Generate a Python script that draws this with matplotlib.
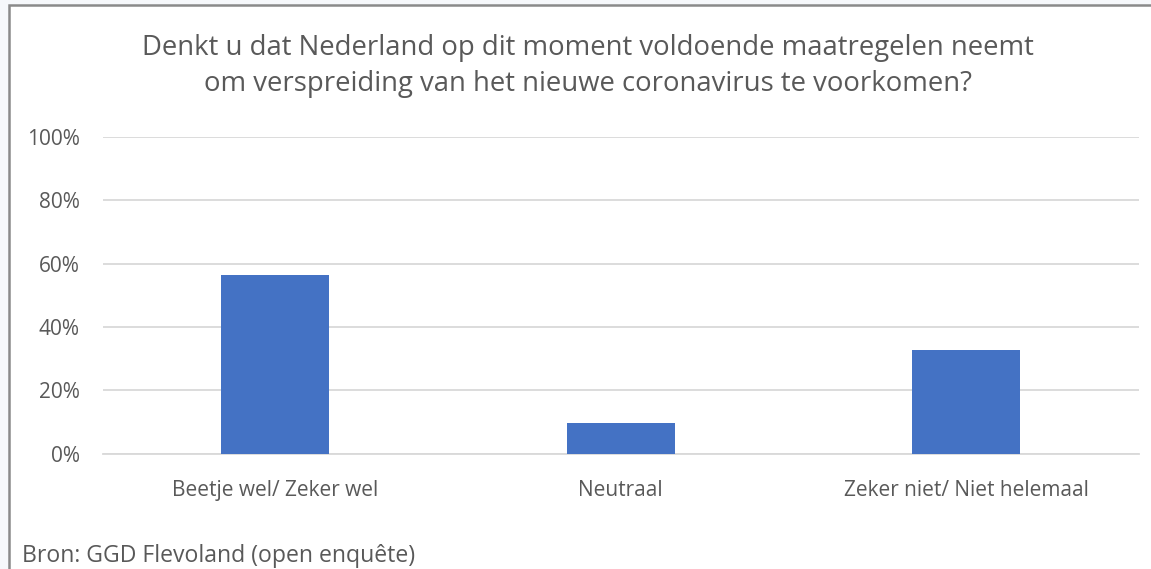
import matplotlib.pyplot as plt
from matplotlib.patches import Rectangle
from matplotlib.ticker import PercentFormatter

categories = ['Beetje wel/ Zeker wel', 'Neutraal', 'Zeker niet/ Niet helemaal']
shares = [56.5, 9.6, 32.8]
yticks = [0, 20, 40, 60, 80, 100]

title = ('Denkt u dat Nederland op dit moment voldoende maatregelen neemt\n'
         'om verspreiding van het nieuwe coronavirus te voorkomen?')
source = 'Bron: GGD Flevoland (open enquête)'

W, H = 1151, 569
text_col = '#595959'
grid_col = '#d9d9d9'
bar_col = '#4472c4'

plt.rcParams['font.family'] = ['Open Sans', 'DejaVu Sans']

fig = plt.figure(figsize=(W / 100, H / 100), dpi=100)
fig.patch.set_facecolor('#f6f8fb')

# chart frame (cut off on the right and bottom in the original)
frame = Rectangle((9 / W, -0.1), 1.2, (H - 5) / H + 0.1, transform=fig.transFigure,
                  facecolor='white', edgecolor='#8a8a8a', linewidth=1.8, zorder=-5)
fig.patches.append(frame)

ax = fig.add_axes([102.7 / W, 115.3 / H, 1036 / W, 317 / H])
ax.set_zorder(2)
ax.set_facecolor('none')

x = range(len(categories))
ax.bar(x, shares, width=0.313, color=bar_col, zorder=3)

ax.set_ylim(0, 100)
ax.set_xlim(-0.5, len(categories) - 0.5)
ax.set_yticks(yticks)
ax.yaxis.set_major_formatter(PercentFormatter(decimals=0))
ax.set_xticks(list(x))
ax.set_xticklabels(categories)

ax.grid(axis='y', color=grid_col, linewidth=1.3, zorder=0)
for side in ['top', 'right', 'left']:
    ax.spines[side].set_visible(False)
ax.spines['bottom'].set_color(grid_col)
ax.spines['bottom'].set_linewidth(1.3)

ax.tick_params(axis='both', length=0, colors=text_col, labelsize=15)
ax.tick_params(axis='y', pad=16.5)
ax.tick_params(axis='x', pad=19)

fig.text(588 / W, 1 - 66 / H, title, ha='center', va='center', fontsize=19.8,
         color=text_col, linespacing=1.4)
fig.text(22 / W, 1 - 562 / H, source, ha='left', va='baseline', fontsize=16.6,
         color=text_col)

fig.savefig('out.png', dpi=100, facecolor=fig.get_facecolor())
